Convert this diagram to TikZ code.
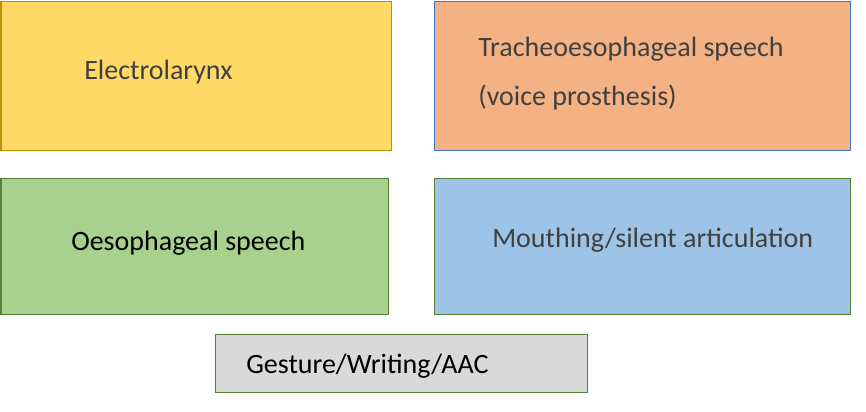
\documentclass[tikz,border=0pt]{standalone}
\usepackage{fontspec}
\setmainfont{Carlito}
\usetikzlibrary{positioning}
\definecolor{elfill}{HTML}{FFD966}
\definecolor{eldraw}{HTML}{BF9000}
\definecolor{trfill}{HTML}{F4B183}
\definecolor{trdraw}{HTML}{4472C4}
\definecolor{oefill}{HTML}{A9D18E}
\definecolor{gndraw}{HTML}{548235}
\definecolor{mofill}{HTML}{9DC3E6}
\definecolor{gefill}{HTML}{D9D9D9}
\definecolor{darktext}{HTML}{404040}
\tikzset{
  box/.style={draw, line width=0.9pt, anchor=north west, inner sep=0pt},
  lbl/.style={anchor=west, inner sep=0pt, font=\fontsize{21}{36.75}\selectfont, align=left},
}
\begin{document}
\begin{tikzpicture}[x=0.75pt, y=-0.75pt]
    \useasboundingbox (0,0) rectangle (866,411);
    % boxes (sizes in pt = px * 0.75)
    \node[box, fill=elfill, draw=eldraw, minimum width=292.5pt, minimum height=111.75pt] (elbox) at (0.5,0.5) {};
    \node[box, fill=trfill, draw=trdraw, minimum width=312pt, minimum height=111.75pt] (trbox) at (433.5,0.5) {};
    \node[box, fill=oefill, draw=gndraw, minimum width=290.25pt, minimum height=102pt] (oebox) at (0.5,177.5) {};
    \node[box, fill=mofill, draw=gndraw, minimum width=312pt, minimum height=102pt] (mobox) at (433.5,177.5) {};
    \node[box, fill=gefill, draw=gndraw, minimum width=279pt, minimum height=43.5pt] (gebox) at (214.5,333.5) {};
    % labels
    \node[lbl, text=darktext] (el) at (84,72) {Electrolarynx};
    \node[lbl, text=darktext] (tr) at (478,74) {Tracheoesophageal speech\\(voice prosthesis)};
    \node[lbl] (oe) at (71,243) {Oesophageal speech};
    \node[lbl, text=darktext] (mo) at (492,240) {Mouthing/silent articulation};
    \node[lbl] (ge) at (246,366) {Gesture/Writing/AAC};
\end{tikzpicture}
\end{document}
